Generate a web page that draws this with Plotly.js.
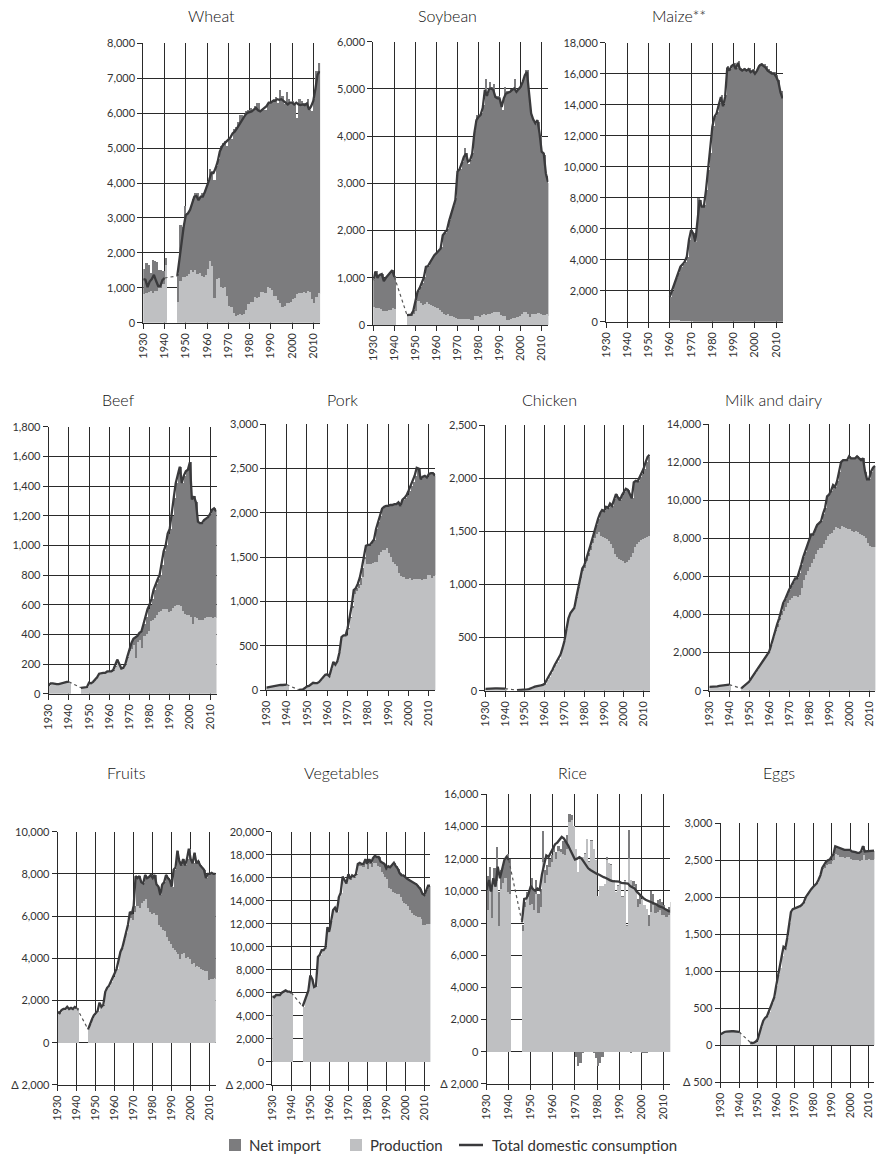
<!DOCTYPE html>
<html><head><meta charset="utf-8">
<script src="https://cdn.plot.ly/plotly-3.0.1.min.js"></script>
<style>html,body{margin:0;padding:0;background:#fff}#chart{width:880px;height:1156px}</style>
</head><body><div id="chart"></div>
<script>
// ---------------- DATA ----------------
const years = [1930,1931,1932,1933,1934,1935,1936,1937,1938,1939,1940,
1946,1947,1948,1949,1950,1951,1952,1953,1954,1955,
1956,1957,1958,1959,1960,1961,1962,1963,1964,1965,
1966,1967,1968,1969,1970,1971,1972,1973,1974,1975,
1976,1977,1978,1979,1980,1981,1982,1983,1984,1985,
1986,1987,1988,1989,1990,1991,1992,1993,1994,1995,
1996,1997,1998,1999,2000,2001,2002,2003,2004,2005,
2006,2007,2008,2009,2010,2011,2012,2013];
const decadeTicks = [1930,1940,1950,1960,1970,1980,1990,2000,2010];

const wheatProd = [820,860,880,900,860,900,900,980,1000,1100,1650,
600,1200,1300,1300,1350,1400,1500,1450,1500,1400,
1420,1350,1300,1380,1530,1780,1630,720,1240,1290,
1020,1000,1010,760,470,440,280,200,230,240,
220,240,370,540,580,590,740,700,740,870,
880,860,1020,990,950,760,760,640,570,440,
480,570,570,580,690,700,830,850,860,870,
840,910,880,670,570,750,860,810];
const wheatImp = [730,840,770,520,940,880,850,520,520,380,200,
800,1600,1450,2050,1800,1800,1800,2100,2200,2300,
2180,2350,2350,2470,2520,2620,2720,3380,3260,3410,
4030,4150,4190,4290,4830,4810,5270,5400,5520,5710,
5730,5610,5680,5560,5570,5510,5460,5600,5560,5230,
5220,5240,5280,5310,5400,5640,5690,5660,6080,6060,
5770,6030,5830,5720,5660,5600,5020,5550,5490,5430,
5460,5490,5220,5380,5830,6450,6590,6640];
const wheatCons = [1250,1230,1020,1180,1250,1370,1200,1050,1050,1220,1280,
1340,1800,2370,2750,3080,3130,3230,3420,3610,3630,
3510,3610,3610,3750,3900,4090,4280,4280,4420,4610,
4900,5040,5120,5180,5230,5300,5420,5470,5560,5660,
5760,5850,5950,6010,6030,6050,6100,6150,6080,6050,
6100,6150,6200,6300,6300,6350,6350,6400,6380,6400,
6350,6280,6250,6300,6300,6250,6300,6250,6230,6250,
6230,6280,6100,6200,6350,6700,7100,7200];

const soyProd = [380,370,350,330,300,290,300,310,320,350,330,
200,200,200,230,300,500,470,430,450,480,
450,420,400,380,350,320,280,240,220,230,
200,190,170,140,120,120,130,120,130,125,
110,110,190,190,170,210,225,215,235,230,
245,285,275,270,220,200,190,100,100,120,
150,145,160,190,235,270,270,230,160,225,
230,225,260,230,220,220,235,200];
const soyImp = [580,780,670,740,790,660,710,760,820,820,700,
10,10,30,90,200,220,330,470,570,780,
800,930,1040,1120,1190,1260,1370,1680,1730,1800,
2020,2210,2350,2540,3160,3180,3320,3630,3520,3275,
3390,3540,3910,4260,4280,4290,4425,4985,4665,4920,
4805,4815,4575,4580,4430,4350,4860,4850,4850,4880,
4850,5055,4790,4860,4865,4930,5130,5170,4540,4175,
4070,4025,4040,3770,3430,3380,2915,2800];
const soyCons = [950,1130,1000,1060,1080,930,1000,1060,1120,1160,1020,
210,210,220,300,480,700,780,880,1000,1230,
1250,1330,1420,1480,1520,1560,1620,1900,1950,2010,
2200,2370,2500,2650,3250,3300,3420,3560,3630,3460,
3490,3630,4060,4340,4410,4450,4600,4980,4850,5000,
5010,4980,4830,4800,4800,4620,4800,4900,4920,4940,
4980,5010,4940,5000,5045,5150,5290,5360,4830,4480,
4350,4270,4340,4060,3670,3630,3210,3030];

const maizeProd = [null,null,null,null,null,null,null,null,null,null,null,
null,null,null,null,null,null,null,null,null,null,
null,null,null,null,110,100,100,90,80,70,
60,50,40,30,20,10,10,0,0,0,
0,0,0,0,0,0,0,0,0,0,
0,0,0,0,0,0,0,0,0,0,
0,0,0,0,0,0,0,0,0,0,
0,0,0,0,0,0,0,0];
const maizeImp = [null,null,null,null,null,null,null,null,null,null,null,
null,null,null,null,null,null,null,null,null,null,
null,null,null,null,1500,1900,2370,2710,3040,3480,
3640,3820,4150,5240,5890,5690,5150,7950,7850,7450,
7500,8500,9800,10900,12600,13300,13500,14100,14600,14000,
14600,16500,16300,16600,16700,16400,16800,16400,16300,16400,
16300,16400,16200,16300,16100,16300,16600,16700,16600,16500,
16300,16200,16100,16100,15900,15600,14900,14500];
const maizeCons = [null,null,null,null,null,null,null,null,null,null,null,
null,null,null,null,null,null,null,null,null,null,
null,null,null,null,1610,2000,2470,2800,3120,3550,
3700,3870,4190,5270,5910,5700,5160,6560,7850,7420,
7420,8490,9780,10860,12580,13230,13440,14000,14500,13900,
14500,16400,16200,16500,16600,16300,16700,16300,16200,16300,
16200,16300,16100,16200,16000,16200,16500,16600,16500,16400,
16200,16100,16000,16000,15800,15500,14800,14400];

const beefProd = [55,70,70,65,65,65,70,75,80,80,80,
40,40,40,45,70,70,80,95,110,130,
135,135,140,145,145,145,155,180,220,195,
165,170,195,240,290,300,330,240,350,360,
310,390,400,420,490,500,510,530,550,560,
570,570,570,550,560,580,590,600,600,590,
560,540,530,530,520,470,520,510,500,500,
495,510,515,520,515,510,515,510];
const beefImp = [0,0,0,0,0,0,0,0,0,0,0,
0,0,0,0,5,0,0,0,0,5,
5,5,0,5,5,5,5,10,10,5,
5,5,5,10,10,40,40,140,40,50,
110,80,120,150,110,140,190,210,220,240,
300,390,430,530,550,620,730,820,880,940,
860,930,970,980,1040,840,810,780,660,650,
655,660,665,670,695,730,735,720];
const beefCons = [55,70,70,65,65,65,70,75,80,80,80,
40,40,40,45,75,70,80,95,110,135,
140,140,140,150,150,150,160,190,230,200,
170,175,200,250,300,340,370,380,390,410,
420,470,520,570,600,640,700,740,770,800,
870,960,1000,1080,1110,1200,1320,1420,1480,1530,
1420,1470,1500,1510,1560,1310,1330,1290,1160,1150,
1150,1170,1180,1190,1210,1240,1250,1230];

const porkProd = [30,35,40,45,45,50,55,60,60,65,65,
5,5,10,25,45,50,70,85,80,80,
95,120,145,175,180,160,240,310,290,330,
430,600,610,610,690,810,930,1090,1120,1150,
1190,1280,1480,1420,1420,1430,1440,1450,1450,1530,
1560,1580,1580,1600,1550,1500,1450,1430,1400,1320,
1290,1280,1260,1250,1270,1240,1250,1260,1250,1250,
1240,1250,1260,1300,1300,1270,1290,1300];
const porkImp = [0,0,0,0,0,0,0,0,0,0,0,
0,0,0,0,0,0,0,0,0,0,
0,0,0,0,0,0,0,10,0,0,
0,0,10,10,10,20,20,40,30,50,
80,100,20,210,220,210,230,250,370,370,
410,470,490,480,530,590,640,670,700,800,
790,870,910,950,980,1060,1100,1160,1260,1250,
1140,1160,1160,1100,1140,1180,1160,1120];
const porkCons = [30,35,40,45,45,50,55,60,60,65,65,
5,5,10,25,45,50,70,85,80,80,
95,120,145,175,180,160,240,320,290,330,
430,600,620,620,700,830,950,1130,1150,1200,
1270,1380,1500,1630,1640,1640,1670,1700,1820,1900,
1970,2050,2070,2080,2080,2090,2090,2100,2100,2120,
2080,2150,2170,2200,2250,2300,2350,2420,2510,2500,
2380,2410,2420,2400,2440,2450,2450,2420];

const chickenProd = [18,20,20,22,22,22,22,22,22,22,20,
5,5,6,8,10,12,15,20,30,38,
40,45,50,55,65,100,130,170,200,240,
270,300,340,400,470,580,680,730,760,780,
870,970,1060,1130,1150,1220,1270,1320,1390,1440,
1470,1490,1460,1450,1440,1430,1410,1380,1340,1290,
1260,1240,1230,1220,1200,1210,1230,1260,1300,1350,
1380,1400,1420,1430,1440,1450,1460,1470];
const chickenImp = [0,0,0,0,0,0,0,0,0,0,0,
0,0,0,0,0,0,0,0,0,0,
0,0,0,0,0,0,0,0,0,0,
0,0,0,0,0,0,0,0,0,0,
10,10,20,20,30,30,30,40,40,60,
90,130,210,250,250,300,310,380,400,510,
590,580,560,620,670,690,660,590,510,610,
595,570,590,610,650,700,740,750];
const chickenCons = [18,20,20,22,22,22,22,22,22,22,20,
5,5,6,8,10,12,15,20,30,38,
40,45,50,55,65,100,130,170,200,240,
270,300,340,400,470,580,680,730,760,780,
880,980,1080,1150,1180,1250,1300,1360,1430,1500,
1560,1620,1670,1700,1690,1730,1720,1760,1740,1800,
1850,1820,1790,1840,1870,1900,1890,1850,1810,1960,
1975,1970,2010,2040,2090,2150,2200,2220];

const milkProd = [200,200,210,220,230,250,270,290,300,320,320,
120,200,300,400,480,650,800,950,1100,1300,
1450,1600,1750,1900,2050,2400,2800,3150,3350,3700,
3950,4200,4400,4600,4750,4850,4950,4950,4900,5000,
5400,5800,6100,6300,6500,6700,6900,7200,7400,7500,
7500,7700,7900,8100,8250,8300,8450,8600,8550,8500,
8650,8600,8550,8500,8500,8400,8350,8400,8350,8250,
8150,8100,8000,7750,7600,7550,7550,7550];
const milkImp = [0,0,0,0,0,0,0,0,0,0,0,
0,0,0,0,0,0,0,0,0,0,
0,0,0,0,0,0,0,50,150,100,
250,400,400,500,550,650,750,950,1000,1200,
1200,1200,1200,1400,1500,1500,1300,1300,1300,1300,
1400,1600,1700,2100,2050,2200,2350,2100,2450,3000,
3350,3500,3550,3600,3800,3800,3850,3800,3950,3950,
3950,4100,3500,3350,3500,3950,4150,4250];
const milkCons = [200,200,210,220,230,250,270,290,300,320,320,
120,200,300,400,480,650,800,950,1100,1300,
1450,1600,1750,1900,2050,2400,2800,3200,3500,3800,
4200,4600,4800,5100,5300,5500,5700,5900,5900,6200,
6600,7000,7300,7700,8000,8200,8200,8500,8700,8800,
8900,9300,9600,10200,10300,10500,10800,10700,11000,11500,
12000,12100,12100,12100,12300,12200,12200,12200,12300,12200,
12100,12200,11500,11100,11100,11500,11700,11800];

const fruitProd = [1450,1400,1550,1600,1600,1700,1600,1650,1600,1600,1550,
630,900,1100,1300,1400,1500,1800,1700,1750,2400,
2600,2700,2900,3100,3350,3500,3900,4300,4500,4900,
5200,5600,5900,5800,6200,6500,6500,6400,6600,6700,
6800,6400,6200,6100,6150,6050,6050,5600,5500,5350,
5300,5000,4800,4700,4500,4400,4300,4200,3950,4200,
4250,4000,4050,3950,3750,3800,3600,3650,3600,3500,
3450,3400,3400,2950,3000,3000,3050,3000];
const fruitImp = [0,0,0,0,0,0,0,0,0,100,100,
0,0,0,0,0,0,100,0,50,0,
0,0,0,0,0,0,0,0,0,0,
0,0,300,300,300,1400,1300,1500,1000,850,
1150,1400,1650,1850,1650,1900,1450,1800,1500,2150,
2300,2950,3000,3000,2900,3800,4000,4900,4650,4200,
4450,4400,4650,5250,4950,4700,5400,4850,5000,4900,
4850,4800,4400,5050,5000,5050,4950,5000];
const fruitCons = [1450,1400,1550,1600,1600,1700,1600,1650,1600,1700,1650,
630,900,1100,1300,1400,1500,1900,1700,1800,2400,
2600,2700,2900,3100,3350,3500,3900,4300,4500,4900,
5200,5600,6200,6100,6500,7900,7800,7900,7600,7550,
7950,7800,7850,7950,7800,7950,7500,7400,7000,7500,
7600,7950,7800,7700,7400,8200,8300,9100,8600,8400,
8700,8400,8700,9200,8700,8500,9000,8500,8600,8400,
8300,8200,7800,8000,8000,8050,8000,8000];

const vegProd = [5700,5600,5800,5800,5800,6000,6100,6200,6100,6100,6000,
4800,5300,5800,6200,7500,7200,6500,6600,9100,9300,
9700,9700,9900,11700,11300,12200,13200,13400,13000,14300,
14700,16100,15800,15500,16200,15800,16100,16000,16200,17000,
17000,16900,16900,17200,16800,17200,16900,17300,17300,17000,
16900,16500,16300,16100,15900,15100,15000,14800,14700,14600,
14600,14300,14000,13800,13700,13500,13200,12900,12800,12700,
12600,12600,12400,11900,11900,12000,12000,12000];
const vegImp = [0,0,0,0,0,0,0,0,0,0,0,
0,0,0,0,0,0,0,0,0,0,
0,0,0,0,0,0,0,0,0,0,
0,0,0,0,100,100,100,100,100,200,
300,300,300,400,400,400,400,400,600,800,
900,900,1000,1100,900,1900,1900,2300,2600,2400,
2200,2100,2200,2400,2300,2400,2600,2800,2800,2800,
2800,2600,2600,2700,2600,2900,3300,3300];
const vegCons = [5700,5600,5800,5800,5800,6000,6100,6200,6100,6100,6000,
4800,5300,5800,6200,7500,7200,6500,6600,9100,9300,
9700,9700,9900,11700,11300,12200,13200,13400,13000,14300,
14700,16100,15800,15500,16300,15900,16200,16100,16300,17200,
17300,17200,17200,17600,17200,17600,17300,17700,17900,17800,
17800,17400,17300,17200,16800,17000,16900,17100,17300,17000,
16800,16400,16200,16200,16000,15900,15800,15700,15600,15500,
15400,15200,15000,14600,14500,14900,15300,15300];

const riceProd = [8800,10000,8300,10400,10600,7800,10100,10500,10800,9900,9800,
7500,9000,9600,9100,9200,8800,9800,8600,9000,11800,
10500,11000,11500,11800,12400,12000,12500,12400,12300,12200,
12600,14300,14400,14000,12600,11200,12000,12100,12300,13200,
11800,13100,12600,11900,9700,10300,10300,10400,11900,11700,
11600,10600,9900,10300,10500,9600,10600,7800,12000,10700,
10300,10000,9000,9200,9500,9100,8900,7800,8700,9100,
8600,8700,8800,8500,8500,8400,8500,8600];
const riceImp = [2100,1500,1900,1000,2100,2100,1200,1000,1200,2400,2200,
400,300,300,1000,1600,1300,900,1200,1100,1900,
800,600,500,400,300,400,300,200,800,900,
900,500,300,50,-300,-900,-700,-100,50,50,
50,50,-50,-400,-900,-700,-300,50,200,50,
50,50,50,50,50,50,50,50,1800,-100,
300,400,500,600,-100,-100,-50,700,1300,700,
600,700,700,800,600,500,500,700];
const riceCons = [10050,10670,9950,10780,10260,11500,10780,11300,11920,12120,11920,
8040,9500,9530,9840,10300,10100,10000,10150,10050,11000,
11600,12200,12100,12400,12700,12900,13000,13200,13350,13250,
13050,12800,12500,12200,11950,12000,12100,12000,11800,11600,
11400,11300,11200,11100,11050,11000,10900,10850,10800,10700,
10650,10600,10580,10570,10570,10500,10480,10470,10450,10300,
10200,10150,9950,9800,9650,9550,9450,9400,9330,9250,
9200,9150,9050,9000,8950,8850,8750,8700];

const eggProd = [150,170,180,185,190,190,190,190,185,180,180,
40,30,35,50,80,180,250,330,370,390,
450,520,570,650,800,950,1050,1200,1330,1310,
1450,1650,1800,1840,1850,1850,1860,1880,1900,1930,
2000,2040,2080,2110,2140,2170,2190,2240,2300,2380,
2400,2430,2450,2450,2490,2500,2590,2570,2540,2540,
2540,2530,2540,2540,2520,2500,2510,2500,2500,2490,
2500,2570,2510,2510,2520,2510,2510,2520];
const eggImp = [0,0,0,0,0,0,0,0,0,0,0,
0,0,0,0,0,0,0,0,0,0,
0,0,0,0,0,0,0,0,0,0,
0,0,0,0,0,0,0,0,0,0,
0,0,0,0,0,0,0,0,0,20,
40,50,50,60,60,80,100,110,120,110,
110,110,100,100,120,120,110,110,100,110,
120,120,110,110,110,120,120,110];
const eggCons = [150,170,180,185,190,190,190,190,185,180,180,
40,30,35,50,80,180,250,330,370,390,
450,520,570,650,800,950,1050,1200,1330,1310,
1450,1650,1800,1840,1850,1850,1860,1880,1900,1930,
2000,2040,2080,2110,2140,2170,2190,2240,2300,2400,
2440,2480,2500,2510,2550,2580,2690,2680,2660,2650,
2650,2640,2640,2640,2640,2620,2620,2610,2600,2600,
2620,2690,2620,2620,2630,2630,2630,2630];

const wheatTicks = [0,1000,2000,3000,4000,5000,6000,7000,8000];
const soyTicks = [0,1000,2000,3000,4000,5000,6000];
const maizeTicks = [0,2000,4000,6000,8000,10000,12000,14000,16000,18000];
const beefTicks = [0,200,400,600,800,1000,1200,1400,1600,1800];
const porkTicks = [0,500,1000,1500,2000,2500,3000];
const chickenTicks = [0,500,1000,1500,2000,2500];
const milkTicks = [0,2000,4000,6000,8000,10000,12000,14000];
const fruitTicks = [-2000,0,2000,4000,6000,8000,10000];
const vegTicks = [-2000,0,2000,4000,6000,8000,10000,12000,14000,16000,18000,20000];
const riceTicks = [-2000,0,2000,4000,6000,8000,10000,12000,14000,16000];
const eggTicks = [-500,0,500,1000,1500,2000,2500,3000];

const seriesNames = ['Net import','Production','Total domestic consumption'];

// ---------------- LAYOUT / STYLE ----------------
const W = 880, H = 1156;
const C_IMP = '#7c7c7e', C_PROD = '#bfc0c2', C_LINE = '#3a3a3c', C_GRID = '#2a2a2a';
const FONT = 'Lato, "Open Sans", sans-serif';

// box: [left px, right px, top px, bottom px]; title: [center x px, y px]
const panels = [
  {name:'Wheat', prod:wheatProd, imp:wheatImp, cons:wheatCons, ticks:wheatTicks, box:[143.3,320.1,43.3,322.7], title:[211,15]},
  {name:'Soybean', prod:soyProd, imp:soyImp, cons:soyCons, ticks:soyTicks, box:[373.3,548.4,41.7,325.0], title:[447,15]},
  {name:'Maize**', prod:maizeProd, imp:maizeImp, cons:maizeCons, ticks:maizeTicks, box:[606.0,783.0,42.7,321.7], title:[679,15]},
  {name:'Beef', prod:beefProd, imp:beefImp, cons:beefCons, ticks:beefTicks, box:[48.7,216.5,426.7,693.7], title:[118,400]},
  {name:'Pork', prod:porkProd, imp:porkImp, cons:porkCons, ticks:porkTicks, box:[266.3,435.4,424.3,690.3], title:[342,400]},
  {name:'Chicken', prod:chickenProd, imp:chickenImp, cons:chickenCons, ticks:chickenTicks, box:[485.3,650.0,425.0,690.7], title:[549,400]},
  {name:'Milk and dairy', prod:milkProd, imp:milkImp, cons:milkCons, ticks:milkTicks, box:[709.3,875.4,424.0,690.7], title:[773,400]},
  {name:'Fruits', prod:fruitProd, imp:fruitImp, cons:fruitCons, ticks:fruitTicks, box:[57.7,215.8,831.7,1084.9], title:[126,772]},
  {name:'Vegetables', prod:vegProd, imp:vegImp, cons:vegCons, ticks:vegTicks, box:[272.3,430.4,831.7,1084.7], title:[341,772]},
  {name:'Rice', prod:riceProd, imp:riceImp, cons:riceCons, ticks:riceTicks, box:[486.7,670.3,794.3,1083.9], title:[572,772]},
  {name:'Eggs', prod:eggProd, imp:eggImp, cons:eggCons, ticks:eggTicks, box:[720.7,874.4,823.3,1082.3], title:[779,772]}
];

function fmt(v){ return v < 0 ? '\u0394 ' + (-v).toLocaleString('en-US') : v.toLocaleString('en-US'); }

const data = [];
const layout = {
  width: W, height: H,
  margin: {l:0, r:0, t:0, b:0, pad:0},
  paper_bgcolor: '#fff', plot_bgcolor: '#fff',
  barmode: 'relative', bargap: 0,
  font: {family: FONT, color: '#333', size: 11},
  showlegend: false,
  annotations: [], shapes: []
};

panels.forEach((p, i) => {
  const n = i === 0 ? '' : String(i + 1);
  const xa = 'x' + n, ya = 'y' + n;
  const [x0, x1, top, bot] = p.box;
  const yMin = p.ticks[0], yMax = p.ticks[p.ticks.length - 1];

  data.push({type:'bar', x: years, y: p.prod, xaxis: xa, yaxis: ya, offset: 0, width: 1,
    marker:{color:C_PROD, line:{width:0}}, name: seriesNames[1], hoverinfo:'skip'});
  data.push({type:'bar', x: years, y: p.imp, xaxis: xa, yaxis: ya, offset: 0, width: 1,
    marker:{color:C_IMP, line:{width:0}}, name: seriesNames[0], hoverinfo:'skip'});

  // consumption line, broken over the war gap (1941-1945)
  const lx = years.slice(0, 11).concat([null], years.slice(11));
  const ly = p.cons.slice(0, 11).concat([null], p.cons.slice(11));
  data.push({type:'scatter', mode:'lines', x: lx, y: ly, xaxis: xa, yaxis: ya, connectgaps:false,
    line:{color:C_LINE, width:2.3}, name: seriesNames[2], hoverinfo:'skip'});
  if (p.cons[10] != null && p.cons[11] != null) {
    data.push({type:'scatter', mode:'lines', x:[years[10], years[11]], y:[p.cons[10], p.cons[11]],
      xaxis: xa, yaxis: ya, line:{color:'#555', width:1.2, dash:'dot'}, hoverinfo:'skip'});
  }

  layout['xaxis' + n] = {
    domain: [x0 / W, x1 / W], anchor: ya, range: [1930, 2013.2],
    tickmode:'array', tickvals: decadeTicks, ticktext: decadeTicks.map(String),
    tickangle: -90, ticks:'outside', ticklen:5, tickwidth:1, tickcolor:C_GRID,
    showgrid:true, gridcolor:C_GRID, gridwidth:1, zeroline:false,
    showline:true, linecolor:C_GRID, linewidth:1,
    tickfont:{size:11, color:'#333', family:FONT, weight:400}, fixedrange:true
  };
  layout['yaxis' + n] = {
    domain: [1 - bot / H, 1 - top / H], anchor: xa, range: [yMin, yMax],
    tickmode:'array', tickvals: p.ticks, ticktext: p.ticks.map(fmt),
    ticks:'outside', ticklen:5, tickwidth:1, tickcolor:C_GRID,
    showgrid:true, gridcolor:C_GRID, gridwidth:1, zeroline:false,
    showline:true, linecolor:C_GRID, linewidth:1,
    tickfont:{size:11, color:'#333', family:FONT, weight:400}, fixedrange:true
  };
  layout.annotations.push({text: p.name, xref:'paper', yref:'paper', x: p.title[0] / W, y: 1 - p.title[1] / H,
    xanchor:'center', yanchor:'middle', showarrow:false, font:{size:16, color:'#111', family:FONT, weight:300}});
});

// legend (drawn as paper-positioned keys)
const LY = 1145;
const py = v => 1 - v / H, pxx = v => v / W;
layout.shapes.push({type:'rect', xref:'paper', yref:'paper', x0:pxx(229), x1:pxx(241), y0:py(LY+6), y1:py(LY-6), fillcolor:C_IMP, line:{width:0}});
layout.shapes.push({type:'rect', xref:'paper', yref:'paper', x0:pxx(350), x1:pxx(362), y0:py(LY+6), y1:py(LY-6), fillcolor:C_PROD, line:{width:0}});
layout.shapes.push({type:'line', xref:'paper', yref:'paper', x0:pxx(459), x1:pxx(483), y0:py(LY), y1:py(LY), line:{color:C_LINE, width:2.5}});
[[247, seriesNames[0]], [368, seriesNames[1]], [490, seriesNames[2]]].forEach(([x, t]) => {
  layout.annotations.push({text:t, xref:'paper', yref:'paper', x:pxx(x), y:py(LY), xanchor:'left', yanchor:'middle',
    showarrow:false, font:{size:15, color:'#333', family:FONT, weight:400}});
});

Plotly.newPlot('chart', data, layout, {staticPlot:true, displayModeBar:false});
</script>
</body></html>
